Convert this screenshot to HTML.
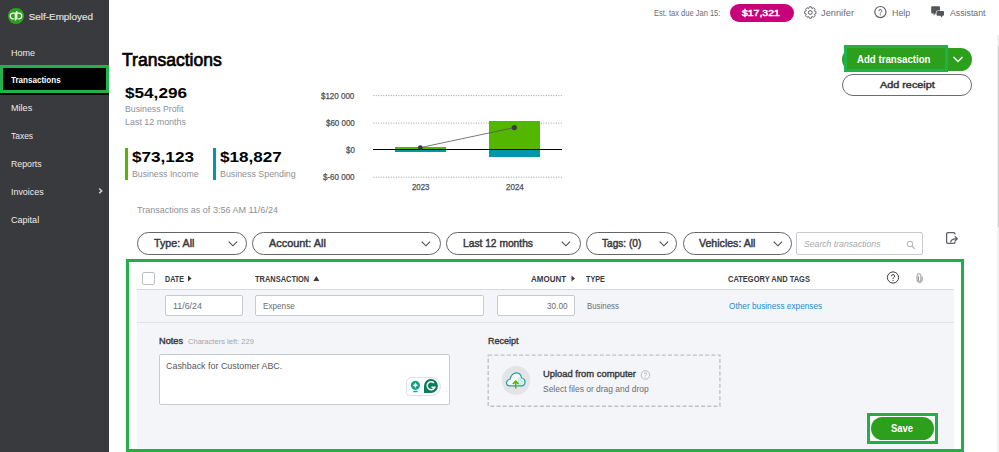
<!DOCTYPE html>
<html><head><meta charset="utf-8"><title>Transactions</title>
<style>
*{margin:0;padding:0;box-sizing:border-box}
html,body{width:999px;height:452px;overflow:hidden;background:#fff;font-family:"Liberation Sans",sans-serif}
.t{position:absolute;line-height:1;white-space:nowrap;transform-origin:0 0}
.a{position:absolute}
.side{left:0;top:0;width:109px;height:452px;background:#393a3d}
.pill{position:absolute;border:1.4px solid #646569;border-radius:12px;background:#fff;height:23px;top:232px}
.chev{position:absolute;top:240px}
.grid{position:absolute;left:373px;width:189px;height:1px;background:repeating-linear-gradient(90deg,#a9abb0 0 1px,transparent 1px 3px)}
.inp{position:absolute;background:#fff;border:1px solid #c7cacf;border-radius:2px}
</style></head><body>
<!-- sidebar -->
<div class="a side"></div>
<div class="a" style="left:0;top:65px;width:109px;height:29.5px;background:#000"></div>
<div class="a" style="left:0;top:64.9px;width:108.8px;height:28.6px;border:3.5px solid #22b24c"></div>
<svg class="a" style="left:0;top:0" width="30" height="30" viewBox="0 0 30 30">
<circle cx="16" cy="16" r="8.1" fill="#2ca01c"/>
<path d="M14.6 13.1 H13.1 A2.85 2.85 0 0 0 13.1 18.8 H13.8 M15.35 12.4 V20.6 M16.75 11.1 V19.5 M17.5 13.1 H18.9 A2.85 2.85 0 0 1 18.9 18.8 H18.2" stroke="#fff" stroke-width="1.3" fill="none"/>
</svg>
<svg class="a" style="left:95px;top:185px" width="10" height="12" viewBox="95 185 10 12"><path d="M99.2 188.5 L101.7 190.9 L99.2 193.3" stroke="#d0d0d0" stroke-width="1.5" fill="none"/></svg>

<!-- top bar -->
<div class="a" style="left:729.5px;top:4.4px;width:64.4px;height:17.5px;border-radius:9px;background:#c9007a"></div>
<svg class="a" style="left:800px;top:2px" width="150" height="20" viewBox="800 2 150 20">
<path d="M808.83 8.35 L809.20 6.80 L811.40 6.80 L811.77 8.35 L812.20 8.53 L813.55 7.70 L815.10 9.25 L814.27 10.60 L814.45 11.03 L816.00 11.40 L816.00 13.60 L814.45 13.97 L814.27 14.40 L815.10 15.75 L813.55 17.30 L812.20 16.47 L811.77 16.65 L811.40 18.20 L809.20 18.20 L808.83 16.65 L808.40 16.47 L807.05 17.30 L805.50 15.75 L806.33 14.40 L806.15 13.97 L804.60 13.60 L804.60 11.40 L806.15 11.03 L806.33 10.60 L805.50 9.25 L807.05 7.70 L808.40 8.53 Z" fill="none" stroke="#5d5e63" stroke-width="0.95" stroke-linejoin="round"/>
<circle cx="810.3" cy="12.5" r="1.9" fill="none" stroke="#5d5e63" stroke-width="1"/>
<circle cx="880.4" cy="12.05" r="5.6" fill="none" stroke="#5d5e63" stroke-width="1.15"/>
<path d="M878.9 11.1 A1.45 1.45 0 1 1 880.9 12.3 C880.4 12.55 880.35 12.8 880.35 13.4" fill="none" stroke="#5d5e63" stroke-width="1"/>
<circle cx="880.35" cy="14.85" r="0.6" fill="#5d5e63"/>
<path d="M932.2 6.3 H939 A1 1 0 0 1 940 7.3 V12.6 A1 1 0 0 1 939 13.6 H935.6 L933.6 15.4 V13.6 H932.2 A1 1 0 0 1 931.2 12.6 V7.3 A1 1 0 0 1 932.2 6.3 Z" fill="#55565b"/>
<path d="M937.5 11 H943 A1 1 0 0 1 944 12 V14.8 A1 1 0 0 1 943 15.8 H942.2 V17.8 L940.2 15.8 H937.5 A1 1 0 0 1 936.5 14.8 V12 A1 1 0 0 1 937.5 11 Z" fill="#55565b" stroke="#fff" stroke-width="1.2" paint-order="stroke"/>
</svg>

<!-- add transaction buttons -->
<div class="a" style="left:842px;top:48px;width:130px;height:22.5px;border-radius:12px;background:#2ca01c"></div>
<div class="a" style="left:843.7px;top:45.3px;width:104.4px;height:26.6px;border:3.1px solid #21b14b;background:#2ca01c"></div>
<svg class="a" style="left:952px;top:55px" width="12" height="9" viewBox="0 0 12 9"><path d="M1.5 2 L6 6.5 L10.5 2" stroke="#fff" stroke-width="1.4" fill="none"/></svg>
<div class="a" style="left:842px;top:74px;width:130px;height:22px;border-radius:12px;border:1.5px solid #6b6c72;background:#fff"></div>

<!-- chart -->
<svg class="a" style="left:370px;top:90px" width="195" height="92" viewBox="370 90 195 92">
<g stroke="#9a9ca1" stroke-width="1" stroke-dasharray="1 1.5">
<line x1="373.3" y1="95.6" x2="561.8" y2="95.6"/>
<line x1="373.3" y1="123.1" x2="561.8" y2="123.1"/>
<line x1="373.3" y1="177.2" x2="561.8" y2="177.2"/>
</g></svg>
<div class="a" style="left:395px;top:147px;width:51px;height:2.5px;background:#53b700"></div>
<div class="a" style="left:395px;top:149.5px;width:51px;height:2.5px;background:#0097a9"></div>
<div class="a" style="left:489px;top:121px;width:51px;height:28.5px;background:#53b700"></div>
<div class="a" style="left:489px;top:149.5px;width:51px;height:7.5px;background:#0097a9"></div>
<div class="a" style="left:373px;top:148.7px;width:189px;height:1.6px;background:#000"></div>
<svg class="a" style="left:0;top:0" width="999" height="452"><line x1="420.3" y1="147.6" x2="514.3" y2="127.6" stroke="#555" stroke-width="0.8"/><circle cx="420.3" cy="147.6" r="2.4" fill="#3a3a3d"/><circle cx="514.3" cy="127.6" r="2.6" fill="#3a3a3d"/></svg>

<!-- bars in summary -->
<div class="a" style="left:125px;top:147.5px;width:3px;height:32.7px;background:#53b700"></div>
<div class="a" style="left:213.1px;top:147.5px;width:3.2px;height:32.7px;background:#0097a9"></div>

<!-- filters -->
<div class="pill" style="left:137px;width:110px"></div>
<div class="pill" style="left:252px;width:189px"></div>
<div class="pill" style="left:445.5px;width:135px"></div>
<div class="pill" style="left:585.5px;width:91.5px"></div>
<div class="pill" style="left:683px;width:108.5px"></div>
<svg class="chev" style="left:226.5px" width="11" height="8" viewBox="0 0 11 8"><path d="M1.7 1.7 L5.9 5.8 L10.1 1.7" stroke="#4a4b50" stroke-width="1.1" fill="none"/></svg>
<svg class="chev" style="left:419.5px" width="11" height="8" viewBox="0 0 11 8"><path d="M1.7 1.7 L5.9 5.8 L10.1 1.7" stroke="#4a4b50" stroke-width="1.1" fill="none"/></svg>
<svg class="chev" style="left:560px" width="11" height="8" viewBox="0 0 11 8"><path d="M1.7 1.7 L5.9 5.8 L10.1 1.7" stroke="#4a4b50" stroke-width="1.1" fill="none"/></svg>
<svg class="chev" style="left:657.5px" width="11" height="8" viewBox="0 0 11 8"><path d="M1.7 1.7 L5.9 5.8 L10.1 1.7" stroke="#4a4b50" stroke-width="1.1" fill="none"/></svg>
<svg class="chev" style="left:771.5px" width="11" height="8" viewBox="0 0 11 8"><path d="M1.7 1.7 L5.9 5.8 L10.1 1.7" stroke="#4a4b50" stroke-width="1.1" fill="none"/></svg>
<div class="a" style="left:796px;top:232px;width:126.5px;height:23px;border:1px solid #c7cacf;border-radius:2px"></div>
<svg class="a" style="left:905.7px;top:239.5px" width="10" height="10" viewBox="0 0 10 10"><circle cx="4" cy="4" r="2.8" fill="none" stroke="#b0b3b8" stroke-width="1"/><path d="M6 6 L8.8 8.8" stroke="#b0b3b8" stroke-width="1.2"/></svg>
<svg class="a" style="left:940px;top:226px" width="25" height="24" viewBox="940 226 25 24">
<path d="M955 234.6 V234 A1.3 1.3 0 0 0 953.7 232.7 H947.9 A1.3 1.3 0 0 0 946.6 234 V242 A1.3 1.3 0 0 0 947.9 243.3 H953.7 A1.3 1.3 0 0 0 955 242 V241.6" fill="none" stroke="#5f6065" stroke-width="1.3"/>
<path d="M950.7 241.9 C951.3 239.7 953.3 238.7 956.8 238.7 M955.2 236.7 L957.3 238.7 L955.2 240.7" fill="none" stroke="#5f6065" stroke-width="1.3" stroke-linecap="round" stroke-linejoin="round"/>
</svg>

<!-- table -->
<div class="a" style="left:129px;top:262px;width:832px;height:187px;background:#fff"></div>
<div class="a" style="left:137px;top:289px;width:817px;height:160px;background:#f4f5f8"></div>
<div class="a" style="left:137px;top:289px;width:817px;height:1px;background:#d6d9de"></div>
<div class="a" style="left:137px;top:322px;width:817px;height:1px;background:#dfe2e6"></div>
<div class="a" style="left:126.1px;top:259.3px;width:837.6px;height:192.4px;border:3.1px solid #21ae48"></div>
<div class="a" style="left:142px;top:272px;width:12.5px;height:12.5px;border:1px solid #babec5;border-radius:2px;background:#fff"></div>
<svg class="a" style="left:0;top:0" width="999" height="452">
<path d="M188 275.5 L191.6 278.5 L188 281.5 Z" fill="#393a3d"/>
<path d="M313.4 281 L316.35 276 L319.3 281 Z" fill="#393a3d"/>
<path d="M571.5 275.5 L575 278.5 L571.5 281.5 Z" fill="#393a3d"/>
</svg>
<svg class="a" style="left:886px;top:271px" width="14" height="13" viewBox="0 0 14 13">
<circle cx="7" cy="6.5" r="5.6" fill="none" stroke="#393a3d" stroke-width="1"/>
<path d="M5.4 5.2 A1.6 1.6 0 1 1 7.5 6.7 C7 7 7 7.4 7 7.9" fill="none" stroke="#393a3d" stroke-width="1"/>
<circle cx="7" cy="9.3" r="0.65" fill="#393a3d"/>
</svg>
<svg class="a" style="left:910px;top:268px" width="20" height="20" viewBox="910 268 20 20">
<path d="M922.2 277 V280 A2.55 2.55 0 0 1 917.1 280 V275.6 A1.9 1.9 0 0 1 920.9 275.6 V280.1 A1.2 1.2 0 0 1 918.5 280.1 V276.6" fill="none" stroke="#8d9096" stroke-width="0.95" stroke-linecap="round"/>
</svg>
<!-- row inputs -->
<div class="inp" style="left:165px;top:295.3px;width:77.5px;height:21px"></div>
<div class="inp" style="left:255px;top:295.3px;width:228.5px;height:21px"></div>
<div class="inp" style="left:497px;top:295.3px;width:77.5px;height:21px"></div>
<!-- notes -->
<div class="inp" style="left:159px;top:354px;width:290.5px;height:50.5px"></div>
<div class="a" style="left:406px;top:377px;width:34.5px;height:18.5px;border:1px solid #dde0e8;border-radius:6px 10px 10px 3px;background:#fff"></div>
<svg class="a" style="left:409px;top:379px" width="30" height="15" viewBox="0 0 30 15">
<circle cx="6.4" cy="6.3" r="4.6" fill="#14a58a"/>
<rect x="4.2" y="11.8" width="4.4" height="1.4" rx="0.7" fill="#14a58a"/>
<path d="M6.4 3.6 Q6.8 5.9 9 6.3 Q6.8 6.7 6.4 9 Q6 6.7 3.8 6.3 Q6 5.9 6.4 3.6 Z" fill="#fff"/>
<path d="M21.9 0 A7 7 0 1 1 21.9 14 H15 V7 A7 7 0 0 1 21.9 0 Z" fill="#0e7a5e"/>
<path d="M25 3.9 A4 4 0 1 0 25.8 8.3 H22.4" fill="none" stroke="#fff" stroke-width="1.45"/>
</svg>
<!-- receipt -->
<svg class="a" style="left:480px;top:348px" width="250" height="66" viewBox="480 348 250 66"><rect x="488.2" y="355.1" width="231.7" height="51.1" fill="none" stroke="#bfc1c6" stroke-width="1.4" stroke-dasharray="4 2.2"/></svg>
<div class="a" style="left:501.5px;top:366.2px;width:28.5px;height:28.5px;border-radius:50%;background:#e3e4e8"></div>
<svg class="a" style="left:498px;top:364px" width="36" height="34" viewBox="0 0 36 34">
<path d="M11.2 21.8 C8.6 21.8 7.6 18.6 9.4 16.6 C10.2 15.7 11.2 15.4 12 15.5 C12.6 11.6 15.5 8.8 18.5 8.9 C21.4 9 23.2 11.4 23.4 14 C25.8 14.2 27.2 16.2 27 18.4 C26.8 20.4 25.4 21.8 23.6 21.8 Z" fill="#f7fbfb" stroke="#2f9c9a" stroke-width="1.2"/>
<path d="M20.5 12 C22 13 22.6 15 23.4 15.6 C25 16 26 17.5 25.8 19 C25.6 20.3 24.6 21 23.6 21 H19.5 Z" fill="#cdeeed"/>
<path d="M17.7 24.4 V17.3 M14.8 20 L17.7 17.1 L20.6 20" fill="none" stroke="#53b700" stroke-width="1.6"/>
</svg>
<svg class="a" style="left:640px;top:369.5px" width="11" height="10" viewBox="0 0 11 10">
<circle cx="5.4" cy="5" r="4.3" fill="none" stroke="#b5b8bd" stroke-width="0.9"/>
<path d="M4.2 4 A1.2 1.2 0 1 1 5.8 5.1 C5.4 5.3 5.4 5.6 5.4 6" fill="none" stroke="#b5b8bd" stroke-width="0.9"/>
<circle cx="5.4" cy="7.3" r="0.5" fill="#b5b8bd"/>
</svg>
<!-- save -->
<div class="a" style="left:866px;top:412px;width:73px;height:33px;background:#f9fafb"></div>
<div class="a" style="left:867.2px;top:413.4px;width:70.5px;height:30.3px;border:3px solid #21ae48"></div>
<div class="a" style="left:871px;top:417.2px;width:63.3px;height:22.8px;border-radius:12px;background:#2ca01c"></div>
<!-- scrollbar -->
<div class="a" style="left:997px;top:35px;width:2px;height:417px;background:#f1f1f1"></div>
<div class="a" style="left:998px;top:46px;width:1px;height:180.5px;background:#cdcdcd"></div>
<span class="t" style="left:28.75px;top:12px;font-size:9.88px;color:#e2e2e2;-webkit-text-stroke:0.15px #e2e2e2;">Self-Employed</span>
<span class="t" style="left:10.90px;top:48px;font-size:9.59px;color:#ececec;transform:scaleX(0.942);">Home</span>
<span class="t" style="left:11.30px;top:75px;font-size:9.59px;color:#ffffff;font-weight:bold;transform:scaleX(0.840);">Transactions</span>
<span class="t" style="left:10.80px;top:103px;font-size:9.59px;color:#ececec;transform:scaleX(0.947);">Miles</span>
<span class="t" style="left:10.80px;top:131px;font-size:9.59px;color:#ececec;transform:scaleX(0.882);">Taxes</span>
<span class="t" style="left:10.80px;top:159px;font-size:9.59px;color:#ececec;transform:scaleX(0.914);">Reports</span>
<span class="t" style="left:10.80px;top:187px;font-size:9.59px;color:#ececec;transform:scaleX(0.929);">Invoices</span>
<span class="t" style="left:10.80px;top:215px;font-size:9.59px;color:#ececec;transform:scaleX(0.944);">Capital</span>
<span class="t" style="left:654.00px;top:10px;font-size:8.14px;color:#6b6c72;transform:scaleX(0.924);">Est. tax due Jan 15:</span>
<span class="t" style="left:742.40px;top:8px;font-size:9.59px;color:#fff;-webkit-text-stroke:0.5px #fff;transform:scaleX(1.090);">$17,321</span>
<span class="t" style="left:821.20px;top:8px;font-size:9.52px;color:#6b6c72;transform:scaleX(0.974);">Jennifer</span>
<span class="t" style="left:891.80px;top:8px;font-size:9.52px;color:#6b6c72;transform:scaleX(0.929);">Help</span>
<span class="t" style="left:949.60px;top:8px;font-size:9.52px;color:#6b6c72;transform:scaleX(0.919);">Assistant</span>
<span class="t" style="left:122.20px;top:51px;font-size:18.75px;color:#000;-webkit-text-stroke:0.7px #000;transform:scaleX(0.935);">Transactions</span>
<span class="t" style="left:125.40px;top:86px;font-size:14.83px;color:#000;font-weight:bold;transform:scaleX(1.157);">$54,296</span>
<span class="t" style="left:125.00px;top:105px;font-size:8.87px;color:#8d9096;transform:scaleX(0.988);">Business Profit</span>
<span class="t" style="left:125.00px;top:118px;font-size:9.16px;color:#8d9096;transform:scaleX(0.974);">Last 12 months</span>
<span class="t" style="left:131.80px;top:149px;font-size:15.41px;color:#000;font-weight:bold;transform:scaleX(1.113);">$73,123</span>
<span class="t" style="left:131.80px;top:169px;font-size:9.59px;color:#8d9096;transform:scaleX(0.913);">Business Income</span>
<span class="t" style="left:220.20px;top:149px;font-size:15.41px;color:#000;font-weight:bold;transform:scaleX(1.110);">$18,827</span>
<span class="t" style="left:220.20px;top:169px;font-size:9.59px;color:#8d9096;transform:scaleX(0.923);">Business Spending</span>
<span class="t" style="left:321.00px;top:92px;font-size:8.43px;color:#4f5055;-webkit-text-stroke:0.25px #4f5055;transform:scaleX(0.947);">$120 000</span>
<span class="t" style="left:325.50px;top:119px;font-size:8.43px;color:#4f5055;-webkit-text-stroke:0.25px #4f5055;transform:scaleX(0.945);">$60 000</span>
<span class="t" style="left:345.50px;top:146px;font-size:8.43px;color:#4f5055;-webkit-text-stroke:0.25px #4f5055;transform:scaleX(0.939);">$0</span>
<span class="t" style="left:322.70px;top:173px;font-size:8.43px;color:#4f5055;-webkit-text-stroke:0.25px #4f5055;transform:scaleX(0.949);">$-60 000</span>
<span class="t" style="left:411.80px;top:183px;font-size:8.43px;color:#4f5055;-webkit-text-stroke:0.25px #4f5055;transform:scaleX(0.933);">2023</span>
<span class="t" style="left:505.70px;top:183px;font-size:8.43px;color:#4f5055;-webkit-text-stroke:0.25px #4f5055;transform:scaleX(0.949);">2024</span>
<span class="t" style="left:137.20px;top:205px;font-size:9.45px;color:#8d9096;transform:scaleX(0.956);">Transactions as of 3:56 AM 11/6/24</span>
<span class="t" style="left:153.60px;top:239px;font-size:10.32px;color:#393a3d;-webkit-text-stroke:0.45px #393a3d;transform:scaleX(1.036);">Type: All</span>
<span class="t" style="left:268.60px;top:239px;font-size:10.32px;color:#393a3d;-webkit-text-stroke:0.45px #393a3d;transform:scaleX(1.055);">Account: All</span>
<span class="t" style="left:462.50px;top:239px;font-size:10.32px;color:#393a3d;-webkit-text-stroke:0.45px #393a3d;transform:scaleX(0.992);">Last 12 months</span>
<span class="t" style="left:602.00px;top:239px;font-size:10.32px;color:#393a3d;-webkit-text-stroke:0.45px #393a3d;transform:scaleX(0.979);">Tags: (0)</span>
<span class="t" style="left:699.00px;top:239px;font-size:10.32px;color:#393a3d;-webkit-text-stroke:0.45px #393a3d;transform:scaleX(1.026);">Vehicles: All</span>
<span class="t" style="left:803.50px;top:239px;font-size:9.74px;color:#a4a7ad;font-style:italic;transform:scaleX(0.889);">Search transactions</span>
<span class="t" style="left:164.50px;top:275px;font-size:8.72px;color:#393a3d;font-weight:bold;transform:scaleX(0.818);">DATE</span>
<span class="t" style="left:254.80px;top:275px;font-size:8.72px;color:#393a3d;font-weight:bold;transform:scaleX(0.854);">TRANSACTION</span>
<span class="t" style="left:531.20px;top:275px;font-size:8.72px;color:#393a3d;font-weight:bold;transform:scaleX(0.917);">AMOUNT</span>
<span class="t" style="left:586.00px;top:275px;font-size:8.72px;color:#393a3d;font-weight:bold;transform:scaleX(0.825);">TYPE</span>
<span class="t" style="left:728.00px;top:275px;font-size:8.72px;color:#393a3d;font-weight:bold;transform:scaleX(0.860);">CATEGORY AND TAGS</span>
<span class="t" style="left:173.00px;top:303px;font-size:8.14px;color:#6b6c72;transform:scaleX(1.092);">11/6/24</span>
<span class="t" style="left:262.70px;top:302px;font-size:9.01px;color:#6b6c72;transform:scaleX(0.907);">Expense</span>
<span class="t" style="left:546.70px;top:302px;font-size:9.01px;color:#6b6c72;transform:scaleX(0.918);">30.00</span>
<span class="t" style="left:587.40px;top:302px;font-size:9.01px;color:#6b6c72;transform:scaleX(0.872);">Business</span>
<span class="t" style="left:729.40px;top:302px;font-size:9.01px;color:#2a8bc7;transform:scaleX(0.918);">Other business expenses</span>
<span class="t" style="left:159.20px;top:337px;font-size:9.01px;color:#393a3d;-webkit-text-stroke:0.4px #393a3d;transform:scaleX(1.020);">Notes</span>
<span class="t" style="left:188.30px;top:338px;font-size:7.99px;color:#a3a6ab;transform:scaleX(0.946);">Characters left: 229</span>
<span class="t" style="left:165.90px;top:361px;font-size:9.45px;color:#55575c;transform:scaleX(0.943);">Cashback for Customer ABC.</span>
<span class="t" style="left:487.60px;top:336px;font-size:9.45px;color:#393a3d;-webkit-text-stroke:0.4px #393a3d;transform:scaleX(0.949);">Receipt</span>
<span class="t" style="left:542.50px;top:369px;font-size:9.59px;color:#393a3d;-webkit-text-stroke:0.4px #393a3d;transform:scaleX(0.980);">Upload from computer</span>
<span class="t" style="left:542.50px;top:385px;font-size:8.29px;color:#6b6c72;transform:scaleX(1.021);">Select files or drag and drop</span>
<span class="t" style="left:891.40px;top:424px;font-size:10.03px;color:#fff;font-weight:bold;transform:scaleX(0.944);">Save</span>
<span class="t" style="left:857.00px;top:54px;font-size:10.61px;color:#fff;font-weight:bold;transform:scaleX(0.910);">Add transaction</span>
<span class="t" style="left:879.60px;top:80px;font-size:9.88px;color:#393a3d;-webkit-text-stroke:0.5px #393a3d;transform:scaleX(1.096);">Add receipt</span>
</body></html>
